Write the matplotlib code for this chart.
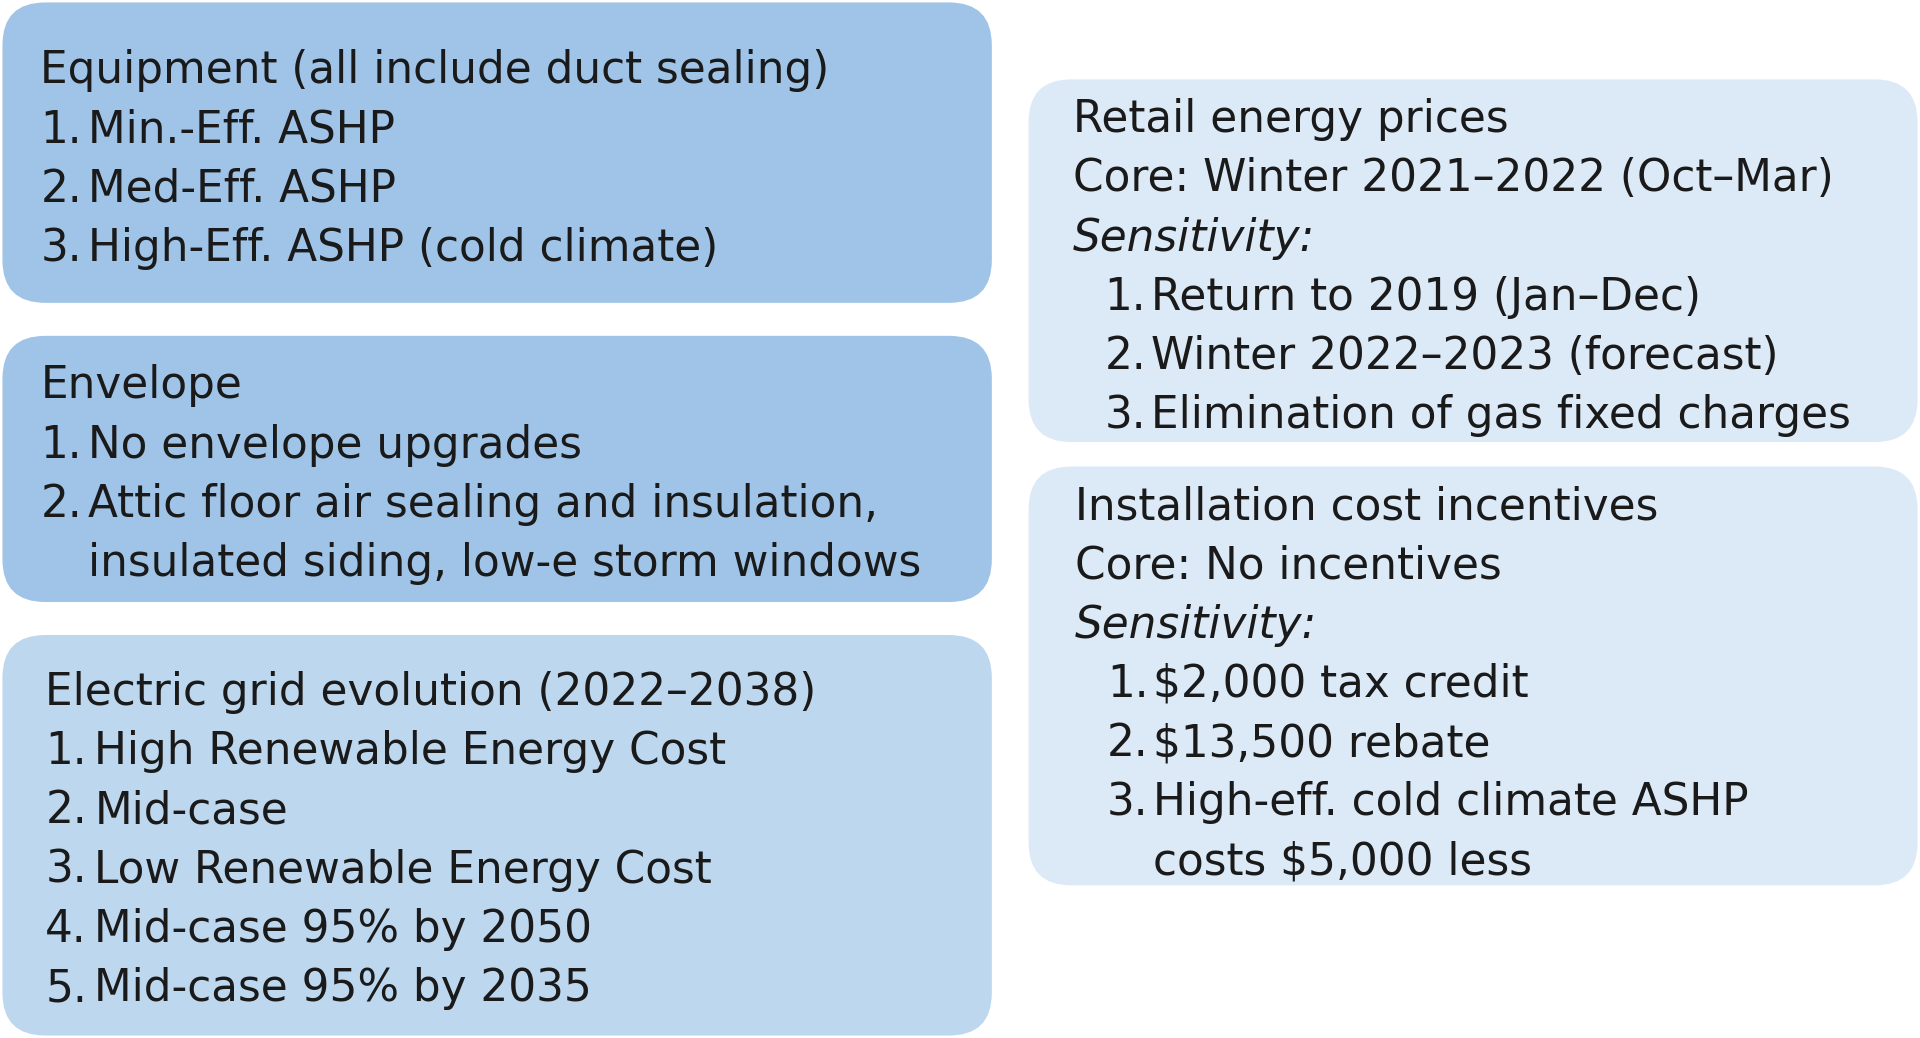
import matplotlib.pyplot as plt
from matplotlib.patches import FancyBboxPatch

# layout in reference pixels (1568 x 850 canvas)
W, H = 1568, 850

boxes = [
    # (x0, y0, x1, y1, color)
    (2, 2, 810, 248, "#9fc4e7"),
    (2, 275, 810, 493, "#9fc4e7"),
    (2, 520, 810, 848, "#bdd7ef"),
    (840, 65, 1566, 362, "#dce9f6"),
    (840, 382, 1566, 725, "#dce9f6"),
]

equipment_title = "Equipment (all include duct sealing)"
equipment_items = ["Min.-Eff. ASHP", "Med-Eff. ASHP", "High-Eff. ASHP (cold climate)"]

envelope_title = "Envelope"
envelope_items = ["No envelope upgrades",
                  "Attic floor air sealing and insulation,\ninsulated siding, low-e storm windows"]

grid_title = "Electric grid evolution (2022\u20132038)"
grid_items = ["High Renewable Energy Cost", "Mid-case", "Low Renewable Energy Cost",
              "Mid-case 95% by 2050", "Mid-case 95% by 2035"]

retail_title = "Retail energy prices"
retail_core = "Core: Winter 2021\u20132022 (Oct\u2013Mar)"
retail_items = ["Return to 2019 (Jan\u2013Dec)", "Winter 2022\u20132023 (forecast)",
                "Elimination of gas fixed charges"]

incent_title = "Installation cost incentives"
incent_core = "Core: No incentives"
incent_items = ["$2,000 tax credit", "$13,500 rebate",
                "High-eff. cold climate ASHP\ncosts $5,000 less"]

FS = 31.5
LH = 48.5
FONT = "DejaVu Sans"

fig = plt.figure(figsize=(19.2, 10.38), dpi=100)
ax = fig.add_axes([0, 0, 1, 1])
ax.set_xlim(0, W)
ax.set_ylim(H, 0)
ax.axis("off")

for x0, y0, x1, y1, c in boxes:
    ax.add_patch(FancyBboxPatch((x0 + 35, y0 + 35), x1 - x0 - 70, y1 - y0 - 70,
                                boxstyle="round,pad=35", fc=c, ec="none"))


def txt(x, y, s, **kw):
    ax.text(x, y + 3, s, fontsize=FS, family=FONT, va="center", ha="left",
            color="#1a1a1a", **kw)


def block(x, y, title, items, numx, textx, core=None):
    txt(x, y, title)
    y += LH
    if core:
        txt(x, y, core)
        y += LH
        txt(x, y, "Sensitivity:", style="italic")
        y += LH
    for i, it in enumerate(items):
        txt(numx, y, f"{i + 1}.")
        for line in it.split("\n"):
            txt(textx, y, line)
            y += LH


block(33, 55, equipment_title, equipment_items, 33, 72)
block(33, 313, envelope_title, envelope_items, 33, 72)
block(37, 564, grid_title, grid_items, 37, 77)
block(876, 95, retail_title, retail_items, 902, 940, core=retail_core)
block(878, 412, incent_title, incent_items, 904, 942, core=incent_core)

fig.savefig("out.png", dpi=100)
